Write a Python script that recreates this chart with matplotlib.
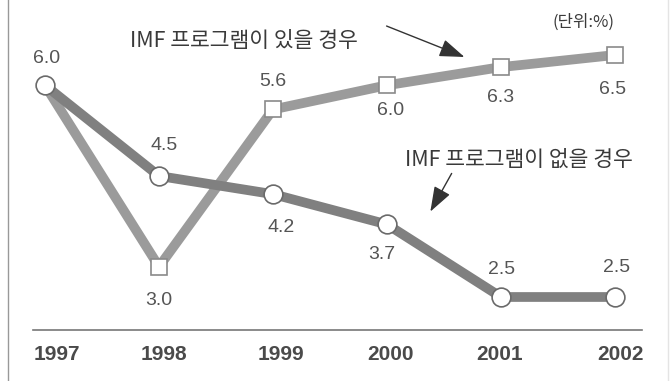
import matplotlib.pyplot as plt
from matplotlib.lines import Line2D

plt.rcParams['font.family'] = ['Noto Sans CJK KR', 'DejaVu Sans']

years = [1997, 1998, 1999, 2000, 2001, 2002]
with_imf = [6.0, 3.0, 5.6, 6.0, 6.3, 6.5]
without_imf = [6.0, 4.5, 4.2, 3.7, 2.5, 2.5]

W, H = 671, 381

def px(x, y):
    # pixel coords (from top-left) -> axes fraction
    return x / W, 1 - y / H

fig = plt.figure(figsize=(W / 100, H / 100), dpi=100)
ax = fig.add_axes([0, 0, 1, 1])
ax.set_xlim(1997 - 45 / 114, 1997 + 626 / 114)
ax.set_ylim(2.5 - 84 / 60.5, 2.5 + 297 / 60.5)
ax.axis('off')

c_with = '#9b9b9b'
c_without = '#808080'

ax.plot(years, with_imf, color=c_with, linewidth=7, solid_joinstyle='miter', zorder=2)
ax.plot(years, without_imf, color=c_without, linewidth=7, solid_joinstyle='miter', zorder=3)
ax.plot(years[1:], with_imf[1:], linestyle='none', marker='s', markersize=11,
        markerfacecolor='white', markeredgecolor='#8a8a8a', markeredgewidth=1.2, zorder=4)
ax.plot(years, without_imf, linestyle='none', marker='o', markersize=13.5,
        markerfacecolor='white', markeredgecolor='#6a6a6a', markeredgewidth=1.2, zorder=5)

lab_font = dict(family='Liberation Sans', fontsize=14, color='#555555', ha='center', va='center')

# value labels: (dx px, dy px) from the point
with_offsets = [None, (0, 34), (0, -28), (4, 25), (0, 30), (-2, 35)]
without_offsets = [(2, -27), (5, -30), (8, 33), (-5, 30), (1, -27), (2, -30)]
for i, yr in enumerate(years):
    if with_offsets[i] is not None:
        dx, dy = with_offsets[i]
        ax.annotate(f'{with_imf[i]:.1f}', (yr, with_imf[i]), xytext=(dx * 0.72, -dy * 0.72),
                    textcoords='offset points', **lab_font)
    dx, dy = without_offsets[i]
    ax.annotate(f'{without_imf[i]:.1f}', (yr, without_imf[i]), xytext=(dx * 0.72, -dy * 0.72),
                textcoords='offset points', **lab_font)

# year labels
year_dx = [12, 5, 8, 4, -1, 5]
for yr, dx in zip(years, year_dx):
    ax.annotate(str(yr), (yr, 0), xycoords=('data', 'axes fraction'),
                xytext=(dx * 0.72, (H - 354) * 0.72), textcoords='offset points',
                family='Liberation Sans', fontweight='bold', fontsize=15,
                color='#4a4a4a', ha='center', va='center')

# baseline and frame lines
ax.add_line(Line2D([33 / W, 642 / W], [1 - 330 / H] * 2, transform=ax.transAxes,
                   color='#777777', linewidth=1.2))
ax.add_line(Line2D([8 / W] * 2, [0, 1], transform=ax.transAxes, color='#999999', linewidth=1))
ax.add_line(Line2D([668 / W] * 2, [0, 1], transform=ax.transAxes, color='#e4e4e4', linewidth=1))

# annotations
txt = dict(fontsize=15.5, color='#3a3a3a', va='center', ha='left', transform=ax.transAxes)
ax.text(*px(130, 41), 'IMF 프로그램이 있을 경우', **txt)
ax.text(*px(405, 160), 'IMF 프로그램이 없을 경우', **txt)
ax.text(*px(553, 22), '(단위:%)', fontsize=12, color='#3a3a3a', va='center', ha='left',
        transform=ax.transAxes)

arrow = dict(arrowstyle='-|>,head_length=0.7,head_width=0.25', color='#333333', lw=1,
             mutation_scale=22)
ax.annotate('', xy=px(467, 58), xytext=px(384, 25), xycoords='axes fraction',
            textcoords='axes fraction', arrowprops=arrow)
ax.annotate('', xy=px(429, 214), xytext=px(453, 171), xycoords='axes fraction',
            textcoords='axes fraction', arrowprops=arrow)

fig.savefig('out.png', dpi=100)
